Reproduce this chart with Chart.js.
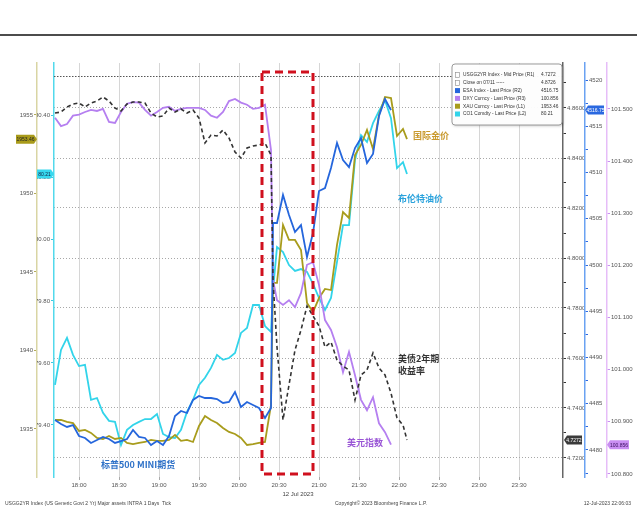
<!DOCTYPE html>
<html>
<head>
<meta charset="utf-8">
<script src="https://cdn.jsdelivr.net/npm/chart.js@4.4.0/dist/chart.umd.min.js"></script>
<style>
  html, body { margin: 0; padding: 0; background: #fff; }
  #wrap { position: relative; width: 637px; height: 508px; }
</style>
</head>
<body>
<div id="wrap"><canvas id="chart"></canvas></div>
<script>
// minutes since midnight, 12 Jul 2023
const times = [1062, 1066.5, 1071, 1075.5, 1080, 1084.5, 1089, 1093.5, 1098, 1102.5,
  1107, 1111.5, 1116, 1120.5, 1125, 1129.5, 1134, 1138.5, 1143, 1147.5,
  1152, 1156.5, 1161, 1165.5, 1170, 1174.5, 1179, 1183.5, 1188, 1192.5,
  1197, 1201.5, 1206, 1210.5, 1215, 1219.5, 1224, 1225.5, 1228.5, 1233,
  1237.5, 1242, 1246.5, 1251, 1255.5, 1260, 1264.5, 1269, 1273.5, 1278,
  1282.5, 1287, 1291.5, 1296, 1300.5, 1305, 1309.5, 1314, 1318.5, 1323, 1326];

// USGG2YR Index - Mid Price (R1)
const usgg2yr = [4.858, 4.8584, 4.8604, 4.8616, 4.862, 4.8604, 4.862, 4.8628, 4.8644, 4.8628,
  4.86, 4.8588, 4.8616, 4.8624, 4.8624, 4.862, 4.858, 4.8564, 4.8568, 4.86,
  4.8584, 4.8596, 4.858, 4.8592, 4.856, 4.846, 4.8492, 4.8488, 4.8512, 4.848,
  4.8424, 4.84, 4.844, 4.8448, 4.8452, 4.846, 4.8412, 4.7912, 4.7644, 4.7352,
  4.7492, 4.7632, 4.7712, 4.7808, 4.7768, 4.7728, 4.7644, 4.7664, 4.7592, 4.7568,
  4.7552, 4.7432, 4.7532, 4.7552, 4.762, 4.756, 4.7532, 4.746, 4.736, 4.7332, 4.7272];
const closePrev = 4.8726;

// ESA Index - Last Price (R2)
const esa = [4483.24, 4482.81, 4482.49, 4482.70, 4481.51, 4481.30, 4480.76, 4481.08, 4481.41, 4481.19,
  4480.76, 4480.97, 4481.19, 4482.16, 4481.41, 4481.30, 4480.54, 4480.97, 4480.54, 4481.51,
  4483.68, 4484.22, 4484.00, 4485.41, 4485.84, 4485.62, 4485.62, 4485.51, 4485.08, 4485.19,
  4486.27, 4484.65, 4485.19, 4484.86, 4484.54, 4483.46, 4484.54, 4504.54, 4504.54, 4507.57,
  4505.41, 4503.57, 4504.32, 4500.86, 4503.46, 4508.00, 4508.32, 4510.49, 4513.19, 4511.35,
  4510.59, 4512.65, 4513.73, 4511.03, 4512.00, 4516.11, 4517.95, 4516.75, null, null, null];

// DXY Curncy - Last Price (R3)
const dxy = [101.483, 101.467, 101.471, 101.487, 101.489, 101.494, 101.498, 101.496, 101.500, 101.475,
  101.473, 101.494, 101.510, 101.513, 101.512, 101.498, 101.487, 101.494, 101.502, 101.504,
  101.496, 101.500, 101.502, 101.502, 101.502, 101.498, 101.487, 101.483, 101.494, 101.515,
  101.519, 101.512, 101.508, 101.500, 101.502, 101.508, 101.421, 101.172, 101.133, 101.124,
  101.133, 101.120, 101.147, 101.201, 101.206, 101.162, 101.095, 101.076, 101.043, 100.995,
  101.034, 100.989, 100.942, 100.922, 100.947, 100.897, 100.880, 100.856, null, null, null];

// XAU Curncy - Last Price (L1)
const xau = [1935.57, 1935.57, 1935.45, 1935.38, 1934.87, 1934.94, 1934.75, 1934.43, 1934.36, 1934.55,
  1934.36, 1934.43, 1934.11, 1934.04, 1934.11, 1934.17, 1934.30, 1934.24, 1934.24, 1934.30,
  1934.62, 1934.24, 1934.30, 1934.17, 1935.19, 1935.83, 1935.57, 1935.38, 1935.06, 1934.81,
  1934.68, 1934.43, 1933.98, 1934.04, 1934.11, 1934.17, 1936.53, 1944.30, 1944.30, 1947.99,
  1947.04, 1947.04, 1946.40, 1943.03, 1942.45, 1943.34, 1943.92, 1943.85, 1946.72, 1948.82,
  1948.44, 1952.45, 1953.09, 1954.04, 1952.83, 1955.00, 1956.15, 1956.08, 1953.66, 1954.11, 1953.46];

// CO1 Comdty - Last Price (L2)
const co1 = [79.529, 79.642, 79.681, 79.626, 79.590, 79.594, 79.481, 79.487, 79.439, 79.413,
  79.410, 79.335, 79.384, 79.400, 79.410, 79.419, 79.419, 79.435, 79.371, 79.361,
  79.358, 79.384, 79.442, 79.481, 79.529, 79.552, 79.584, 79.626, 79.610, 79.616,
  79.632, 79.697, 79.713, 79.787, 79.787, 79.719, 79.700, 79.835, 79.974, 79.958,
  79.916, 79.897, 79.903, 79.894, 79.855, 79.810, 79.771, 79.810, 79.926, 80.045,
  80.045, 80.255, 80.335, 80.313, 80.374, 80.413, 80.448, 80.390, 80.229, 80.248, 80.21];

const xMin = 1061.25, xMax = 1443;
// highlighted window around the 20:30 CPI release
const boxFrom = 1217.25, boxTo = 1255.5, boxTop = 4.8744, boxBottom = 4.7136;

const colUs = '#333333', colEsa = '#2566dc', colDxy = '#b57ff0', colXau = '#a89c1c', colCo1 = '#32d4ea';

const pts = arr => times.map((t, i) => ({ x: t, y: arr[i] }));
const lastVal = arr => arr.filter(v => v !== null).slice(-1)[0];
const fmtTime = v => Math.floor(v / 60) + ':' + String(Math.round(v % 60)).padStart(2, '0');
const tickFont = { family: 'Liberation Sans', size: 6 };

function flag(ctx, x, y, text, bg, fg, dir, w) {
  const h = 9;
  ctx.save();
  ctx.beginPath();
  if (dir === 'right') {
    ctx.moveTo(x, y); ctx.lineTo(x - 3, y - h / 2); ctx.lineTo(x - w, y - h / 2);
    ctx.lineTo(x - w, y + h / 2); ctx.lineTo(x - 3, y + h / 2);
  } else {
    ctx.moveTo(x, y); ctx.lineTo(x + 3, y - h / 2); ctx.lineTo(x + w, y - h / 2);
    ctx.lineTo(x + w, y + h / 2); ctx.lineTo(x + 3, y + h / 2);
  }
  ctx.closePath();
  ctx.fillStyle = bg; ctx.fill();
  ctx.fillStyle = fg;
  ctx.font = '5px "Liberation Sans"';
  ctx.textAlign = 'center'; ctx.textBaseline = 'middle';
  const cx = dir === 'right' ? x - w / 2 - 1 : x + w / 2 + 1;
  ctx.fillText(text, cx, y + 0.5);
  ctx.restore();
}

const overlay = {
  id: 'overlay',
  afterDatasetsDraw(chart) {
    const ctx = chart.ctx, sx = chart.scales.x, sy = chart.scales.yUs;
    // red dashed window
    ctx.save();
    ctx.strokeStyle = '#d0101e'; ctx.lineWidth = 3; ctx.setLineDash([8, 5]);
    const x0 = sx.getPixelForValue(boxFrom), x1 = sx.getPixelForValue(boxTo);
    const y0 = sy.getPixelForValue(boxTop), y1 = sy.getPixelForValue(boxBottom);
    ctx.strokeRect(x0, y0, x1 - x0, y1 - y0);
    ctx.restore();

    // annotations
    ctx.save();
    ctx.textBaseline = 'middle'; ctx.textAlign = 'left';
    ctx.font = 'bold 9px "Noto Sans CJK SC"';
    ctx.fillStyle = '#c99a2e'; ctx.fillText('国际金价', 413, 136);
    ctx.fillStyle = '#2aa2dc'; ctx.fillText('布伦特油价', 398, 199);
    ctx.fillStyle = '#333333'; ctx.fillText('美债2年期', 398, 359); ctx.fillText('收益率', 398, 371);
    ctx.fillStyle = '#9a56d6'; ctx.fillText('美元指数', 347, 443);
    ctx.fillStyle = '#2f72c8'; ctx.fillText('标普500 MINI期货', 101, 465);
    ctx.restore();
  },
  afterDraw(chart) {
    const ctx = chart.ctx, W = chart.width;
    ctx.save();
    // top rule
    ctx.strokeStyle = '#111'; ctx.lineWidth = 1.5;
    ctx.beginPath(); ctx.moveTo(0, 35); ctx.lineTo(W, 35); ctx.stroke();

    // legend box
    ctx.shadowColor = 'rgba(0,0,0,0.25)'; ctx.shadowBlur = 3; ctx.shadowOffsetX = 1; ctx.shadowOffsetY = 1;
    ctx.fillStyle = 'rgba(255,255,255,0.96)';
    ctx.beginPath(); ctx.roundRect(452, 64, 110, 61, 3); ctx.fill();
    ctx.shadowColor = 'transparent';
    ctx.strokeStyle = '#9a9a9a'; ctx.lineWidth = 1; ctx.stroke();
    const rows = [
      ['USGG2YR Index - Mid Price (R1)', lastVal(usgg2yr).toFixed(4), null],
      ['Close on 07/11 -----', closePrev.toFixed(4), null],
      ['ESA Index - Last Price (R2)', lastVal(esa).toFixed(2), colEsa],
      ['DXY Curncy - Last Price (R3)', lastVal(dxy).toFixed(3), colDxy],
      ['XAU Curncy - Last Price (L1)', lastVal(xau).toFixed(2), colXau],
      ['CO1 Comdty - Last Price (L2)', lastVal(co1).toFixed(2), colCo1]
    ];
    ctx.font = '4.8px "Liberation Sans"'; ctx.textBaseline = 'middle';
    rows.forEach((r, i) => {
      const y = 75 + i * 7.8;
      if (r[2]) { ctx.fillStyle = r[2]; ctx.fillRect(455, y - 2.5, 5, 5); }
      else { ctx.strokeStyle = '#888'; ctx.lineWidth = 0.6; ctx.strokeRect(455.5, y - 2.5, 4, 5); }
      ctx.fillStyle = '#333'; ctx.textAlign = 'left';
      ctx.fillText(r[0], 463, y); ctx.fillText(r[1], 541, y);
    });

    // last-value flags
    const s = chart.scales;
    flag(ctx, s.yGold.right, s.yGold.getPixelForValue(lastVal(xau)), lastVal(xau).toFixed(2), '#a99b1a', '#222', 'right', 21);
    flag(ctx, s.yCyan.right, s.yCyan.getPixelForValue(lastVal(co1)), lastVal(co1).toFixed(2), '#36d8ee', '#124', 'right', 17);
    flag(ctx, s.yUs.left + 1, s.yUs.getPixelForValue(lastVal(usgg2yr)), lastVal(usgg2yr).toFixed(4), '#3a3a3a', '#fff', 'left', 18);
    flag(ctx, s.yEsa.left, s.yEsa.getPixelForValue(lastVal(esa)), lastVal(esa).toFixed(2), '#2a68e0', '#fff', 'left', 19);
    flag(ctx, s.yDxy.left, s.yDxy.getPixelForValue(lastVal(dxy)), lastVal(dxy).toFixed(3), '#c98ef2', '#3a1060', 'left', 22);

    // date + footer
    ctx.fillStyle = '#444'; ctx.font = '6px "Liberation Sans"'; ctx.textBaseline = 'middle';
    ctx.textAlign = 'center'; ctx.fillText('12 Jul 2023', 298, 494);
    ctx.font = '5px "Liberation Sans"';
    ctx.textAlign = 'left';
    ctx.fillText('USGG2YR Index (US Generic Govt 2 Yr) Major assets INTRA 1 Days  Tick', 5, 504);
    ctx.fillText('Copyright\u00A9 2023 Bloomberg Finance L.P.', 335, 504);
    ctx.textAlign = 'right';
    ctx.fillText('12-Jul-2023 22:06:03', 631, 504);
    ctx.restore();
  }
};

function sideAxis(pos, weight, width, min, max, step, borderColor, tickColor, fmt, opts) {
  return Object.assign({
    type: 'linear', position: pos, weight: weight, min: min, max: max,
    border: { color: borderColor, width: 1.5 },
    grid: { drawOnChartArea: false, tickLength: 3, tickColor: tickColor },
    ticks: { stepSize: step, includeBounds: false, autoSkip: false, padding: 1, color: '#555', font: tickFont, callback: fmt },
    afterFit: sc => { sc.width = width; }
  }, opts || {});
}

new Chart(document.getElementById('chart'), {
  type: 'line',
  data: {
    datasets: [
      { label: 'USGG2YR Index', data: pts(usgg2yr), yAxisID: 'yUs', borderColor: colUs, borderWidth: 1.6, borderDash: [4, 3], order: 0 },
      { label: 'ESA Index', data: pts(esa), yAxisID: 'yEsa', borderColor: colEsa, borderWidth: 1.8, order: 1 },
      { label: 'DXY Curncy', data: pts(dxy), yAxisID: 'yDxy', borderColor: colDxy, borderWidth: 1.8, order: 2 },
      { label: 'XAU Curncy', data: pts(xau), yAxisID: 'yGold', borderColor: colXau, borderWidth: 1.8, order: 3 },
      { label: 'CO1 Comdty', data: pts(co1), yAxisID: 'yCyan', borderColor: colCo1, borderWidth: 1.8, order: 4 },
      { label: 'Close on 07/11', data: [{ x: xMin, y: closePrev }, { x: xMax, y: closePrev }], yAxisID: 'yUs',
        borderColor: '#555', borderWidth: 1, borderDash: [1.5, 1.5], order: 5 }
    ]
  },
  options: {
    responsive: true, maintainAspectRatio: false, animation: false,
    layout: { padding: { top: 63, left: 0, right: 0, bottom: 0 } },
    elements: { point: { radius: 0 }, line: { tension: 0 } },
    plugins: { legend: { display: false }, tooltip: { enabled: false } },
    scales: {
      x: {
        type: 'linear', min: xMin, max: xMax,
        border: { display: false },
        grid: { color: '#d6d6d6', lineWidth: 1, tickLength: 3, tickColor: '#aaa' },
        ticks: { stepSize: 30, includeBounds: false, autoSkip: false, maxRotation: 0, padding: 2, color: '#555', font: tickFont,
          callback: v => (v >= 1080 && v <= 1410) ? fmtTime(v) : null },
        afterFit: sc => { sc.height = 31; }
      },
      yGold: sideAxis('left', 1, 37, 1931.94, 1958.31, 5, '#d9d5a4', '#b3ab5a', v => v.toFixed(0)),
      yCyan: sideAxis('left', 0, 17, 79.232, 80.568, 0.2, '#52d9ec', '#3cc8e0', v => v.toFixed(2)),
      yUs: sideAxis('right', 0, 22, 4.7124, 4.878, 0.01, '#666', '#333',
        v => Math.round(v * 100) % 2 === 0 ? v.toFixed(4) : '', {
          grid: {
            drawOnChartArea: true, tickLength: 3, tickColor: '#333', lineWidth: 1,
            color: c => (c.tick && Math.round(c.tick.value * 100) % 2 === 0) ? '#a8a8a8' : 'rgba(0,0,0,0)'
          },
          border: { color: '#666', width: 1.5, dash: [1, 2] }
        }),
      yEsa: sideAxis('right', 1, 22, 4477.08, 4521.84, 2.5, '#6aa2f2', '#2e6ae0',
        v => Math.round(v * 2) % 10 === 0 ? v.toFixed(0) : ''),
      yDxy: sideAxis('right', 2, 30, 100.794, 101.588, 0.1, '#e6bdf8', '#c890f0', v => v.toFixed(3))
    }
  },
  plugins: [overlay]
});
</script>
</body>
</html>
